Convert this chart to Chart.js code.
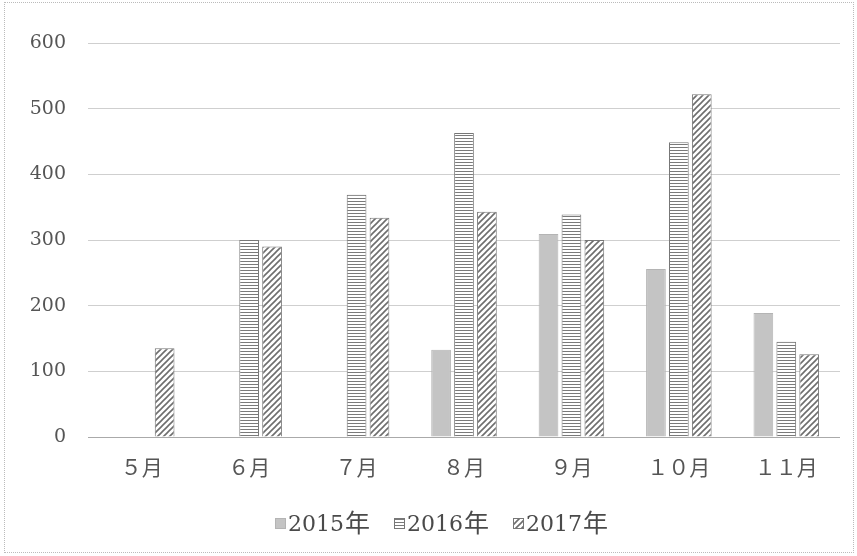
<!DOCTYPE html>
<html>
<head>
<meta charset="utf-8">
<script src="https://cdn.jsdelivr.net/npm/chart.js@4"></script>
<style>
  html, body { margin: 0; padding: 0; background: #fff; }
  #wrap { width: 857px; height: 556px; position: relative; }
  #frame { position: absolute; left: 4px; top: 2px; width: 850px; height: 551px; border: 1px dotted #bbb; box-sizing: border-box; }
</style>
</head>
<body>
<div id="wrap">
  <div id="frame"></div>
  <canvas id="c" width="857" height="556"></canvas>
</div>
<script>
// month labels and yearly series
const months = ['５月', '６月', '７月', '８月', '９月', '１０月', '１１月'];
const years = ['2015年', '2016年', '2017年'];
const s2015 = [null, null, null, 133, 309, 256, 189];
const s2016 = [null, 300, 369, 463, 339, 449, 145];
const s2017 = [135, 290, 334, 343, 300, 522, 126];
const yTicks = [0, 100, 200, 300, 400, 500, 600];

function makePattern(kind) {
  const p = document.createElement('canvas');
  const ctx = p.getContext('2d');
  if (kind === 'h') {
    p.width = 4; p.height = 3;
    ctx.fillStyle = '#fff';
    ctx.fillRect(0, 0, 4, 3);
    ctx.fillStyle = '#7a7a7a';
    ctx.fillRect(0, 0, 4, 1);
  } else {
    p.width = 6; p.height = 6;
    ctx.fillStyle = '#fff';
    ctx.fillRect(0, 0, 6, 6);
    ctx.strokeStyle = '#6e6e6e';
    ctx.lineWidth = 1.6;
    ctx.beginPath();
    ctx.moveTo(-1, 7); ctx.lineTo(7, -1);
    ctx.moveTo(-4, 4); ctx.lineTo(4, -4);
    ctx.moveTo(2, 10); ctx.lineTo(10, 2);
    ctx.stroke();
  }
  return ctx.createPattern(p, 'repeat');
}

const fill2016 = makePattern('h');
const fill2017 = makePattern('d');

// legend drawn by hand so it sits where the original one does
const legendPlugin = {
  id: 'flatLegend',
  afterDraw(chart) {
    const ctx = chart.ctx;
    const starts = [275, 394, 513];
    const y = 523;
    ctx.save();
    ctx.textBaseline = 'alphabetic';
    chart.data.datasets.forEach((ds, i) => {
      const x = starts[i];
      ctx.fillStyle = ds.backgroundColor;
      ctx.fillRect(x, y - 5, 11, 11);
      ctx.strokeStyle = ds.borderColor;
      ctx.lineWidth = 1;
      ctx.strokeRect(x + 0.5, y - 4.5, 10, 10);
      // digits and the trailing 年 use different sizes, as in the original
      const digits = ds.label.slice(0, -1);
      const tail = ds.label.slice(-1);
      ctx.fillStyle = '#4a4a4a';
      ctx.font = '22px "DejaVu Serif", serif';
      ctx.fillText(digits, x + 13, y + 8);
      const w = ctx.measureText(digits).width;
      ctx.font = '25px "Noto Sans CJK JP", sans-serif';
      ctx.fillText(tail, x + 14 + w, y + 9);
    });
    ctx.restore();
  }
};

new Chart(document.getElementById('c'), {
  type: 'bar',
  data: {
    labels: months,
    datasets: [
      { label: years[0], data: s2015, backgroundColor: '#c4c4c4', borderColor: '#b4b4b4', borderWidth: 1 },
      { label: years[1], data: s2016, backgroundColor: fill2016, borderColor: '#777', borderWidth: 1 },
      { label: years[2], data: s2017, backgroundColor: fill2017, borderColor: '#777', borderWidth: 1 }
    ]
  },
  options: {
    responsive: false,
    animation: false,
    layout: { padding: { left: 0, right: 17, top: 43, bottom: 0 } },
    datasets: { bar: { categoryPercentage: 0.64, barPercentage: 0.86 } },
    plugins: {
      legend: { display: false },
      tooltip: { enabled: false }
    },
    scales: {
      x: {
        afterFit: s => { s.height = 119; },
        grid: { display: false, drawTicks: false },
        border: { display: false },
        ticks: {
          color: '#555',
          padding: 17,
          font: { family: 'Noto Sans CJK JP, sans-serif', size: 21 }
        }
      },
      y: {
        min: 0,
        max: 600,
        afterFit: s => { s.width = 88; },
        afterBuildTicks: s => { s.ticks = yTicks.map(v => ({ value: v })); },
        border: { display: false },
        grid: {
          color: ctx => ctx.tick.value === 0 ? '#aaa' : '#cfcfcf',
          lineWidth: 1,
          drawTicks: false
        },
        ticks: {
          color: '#555',
          padding: 22,
          font: { family: 'DejaVu Serif, serif', size: 19 }
        }
      }
    }
  },
  plugins: [legendPlugin]
});
</script>
</body>
</html>
